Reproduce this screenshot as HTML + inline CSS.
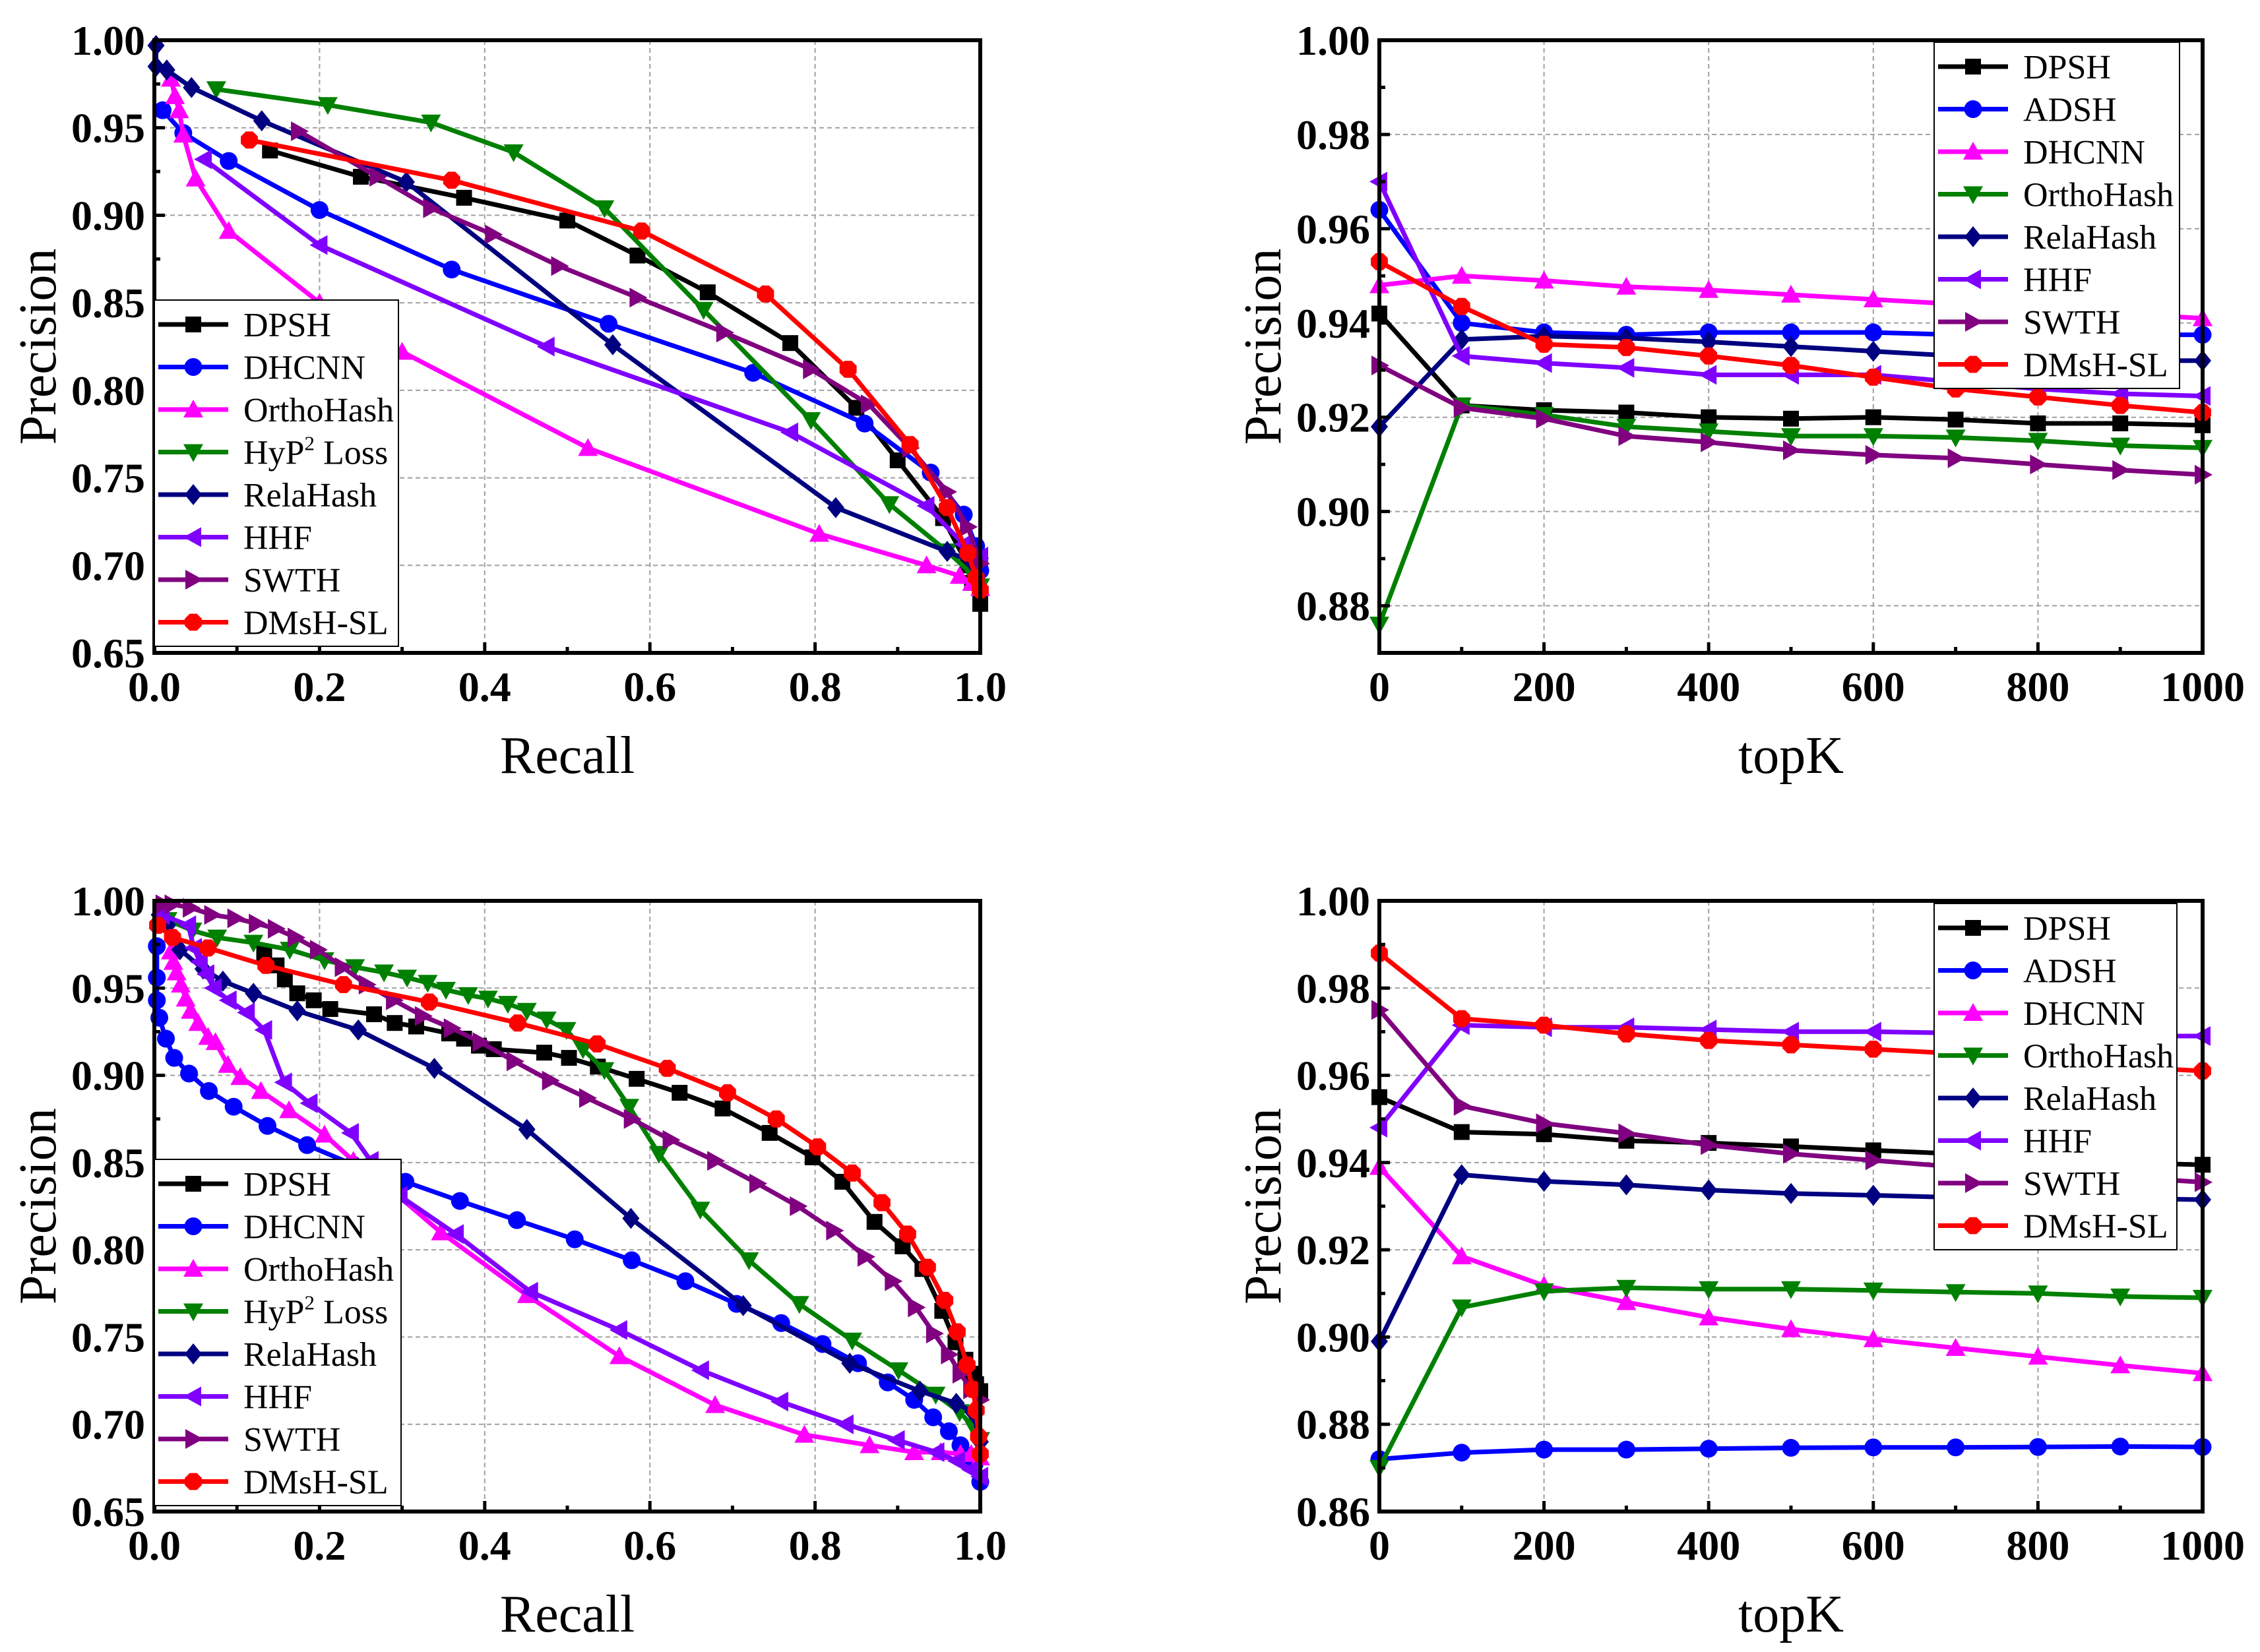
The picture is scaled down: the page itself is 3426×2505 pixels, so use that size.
<!DOCTYPE html>
<html><head><meta charset="utf-8"><title>Precision charts</title>
<style>
html,body{margin:0;padding:0;background:#fff;}
svg{display:block;font-family:"Liberation Serif","Times New Roman",serif;}
</style></head>
<body>
<svg id="fig" width="3426" height="2505" viewBox="0 0 3426 2505" xmlns="http://www.w3.org/2000/svg"></svg>
<script>
// ---------- DATA ----------
const prLabels = ["DPSH","DHCNN","OrthoHash","HyP2 Loss","RelaHash","HHF","SWTH","DMsH-SL"];
const topkLabels = ["DPSH","ADSH","DHCNN","OrthoHash","RelaHash","HHF","SWTH","DMsH-SL"];
const topkCategories = [0,100,200,300,400,500,600,700,800,900,1000];
const prXTicks = [0,0.2,0.4,0.6,0.8,1.0];
const prYTicks = [0.65,0.70,0.75,0.80,0.85,0.90,0.95,1.00];
const topkXTicks = [0,200,400,600,800,1000];
const tr_YTicks = [0.88,0.90,0.92,0.94,0.96,0.98,1.00];
const br_YTicks = [0.86,0.88,0.90,0.92,0.94,0.96,0.98,1.00];

const tlDPSH = [[0.14,0.937],[0.25,0.922],[0.375,0.910],[0.50,0.897],[0.585,0.877],[0.67,0.856],[0.77,0.827],[0.85,0.790],[0.90,0.760],[0.955,0.727],[0.985,0.700],[0.99,0.690],[1.0,0.678]];
const tlDHCNN = [[0.01,0.960],[0.035,0.947],[0.09,0.931],[0.20,0.903],[0.36,0.869],[0.55,0.838],[0.725,0.810],[0.86,0.781],[0.94,0.753],[0.98,0.729],[0.995,0.711],[1.0,0.697]];
const tlOrtho = [[0.02,0.978],[0.025,0.968],[0.03,0.960],[0.035,0.946],[0.05,0.921],[0.09,0.891],[0.20,0.850],[0.30,0.822],[0.525,0.767],[0.805,0.718],[0.935,0.700],[0.975,0.694],[0.99,0.690],[1.0,0.687]];
const tlHyP = [[0.075,0.972],[0.21,0.963],[0.335,0.953],[0.435,0.936],[0.545,0.904],[0.665,0.846],[0.795,0.783],[0.89,0.735],[0.96,0.708],[0.99,0.695],[1.0,0.688]];
const tlRela = [[0.002,0.997],[0.002,0.985],[0.015,0.983],[0.045,0.973],[0.13,0.954],[0.305,0.919],[0.555,0.826],[0.825,0.733],[0.96,0.708],[0.99,0.702],[1.0,0.704]];
const tlHHF = [[0.06,0.932],[0.20,0.883],[0.475,0.825],[0.77,0.776],[0.935,0.734],[0.98,0.712],[1.0,0.705]];
const tlSWTH = [[0.175,0.948],[0.27,0.922],[0.335,0.904],[0.41,0.889],[0.49,0.871],[0.585,0.853],[0.69,0.833],[0.795,0.812],[0.865,0.792],[0.915,0.767],[0.96,0.742],[0.985,0.722],[1.0,0.701]];
const tlDMsH = [[0.115,0.943],[0.36,0.920],[0.59,0.891],[0.74,0.855],[0.84,0.812],[0.915,0.769],[0.96,0.733],[0.985,0.707],[0.995,0.693],[1.0,0.686]];

const trDPSH = [0.942,0.9225,0.9215,0.921,0.920,0.9197,0.920,0.9195,0.9187,0.9187,0.9183];
const trADSH = [0.964,0.940,0.938,0.9375,0.938,0.938,0.938,0.9375,0.9375,0.9375,0.9375];
const trDHCNN = [0.948,0.950,0.949,0.9477,0.947,0.946,0.945,0.944,0.943,0.942,0.941];
const trOrtho = [0.876,0.9225,0.9205,0.918,0.917,0.916,0.916,0.9157,0.915,0.914,0.9135];
const trRela = [0.918,0.9365,0.9372,0.9368,0.936,0.935,0.934,0.933,0.932,0.932,0.932];
const trHHF = [0.970,0.933,0.9315,0.9305,0.929,0.929,0.929,0.9275,0.926,0.925,0.9245];
const trSWTH = [0.931,0.922,0.9197,0.916,0.9147,0.913,0.912,0.9113,0.910,0.9088,0.9078];
const trDMsH = [0.953,0.9435,0.9355,0.9348,0.933,0.931,0.9285,0.926,0.9243,0.9225,0.921];

const blDPSH = [[0.133,0.970],[0.148,0.963],[0.158,0.955],[0.173,0.947],[0.193,0.943],[0.213,0.938],[0.266,0.935],[0.291,0.930],[0.317,0.928],[0.357,0.924],[0.375,0.921],[0.393,0.917],[0.411,0.915],[0.472,0.913],[0.502,0.910],[0.537,0.905],[0.584,0.898],[0.636,0.890],[0.688,0.881],[0.745,0.867],[0.797,0.853],[0.833,0.839],[0.872,0.816],[0.906,0.802],[0.930,0.789],[0.954,0.765],[0.970,0.747],[0.982,0.737],[0.99,0.729],[0.995,0.723],[1.0,0.719]];
const blDHCNN = [[0.003,0.974],[0.003,0.956],[0.003,0.943],[0.006,0.933],[0.014,0.921],[0.024,0.910],[0.042,0.901],[0.066,0.891],[0.096,0.882],[0.137,0.871],[0.185,0.860],[0.24,0.849],[0.304,0.839],[0.370,0.828],[0.439,0.817],[0.509,0.806],[0.578,0.794],[0.643,0.782],[0.705,0.769],[0.759,0.758],[0.809,0.746],[0.852,0.735],[0.888,0.724],[0.920,0.714],[0.943,0.704],[0.962,0.696],[0.976,0.688],[0.985,0.682],[0.993,0.677],[1.0,0.667]];
const blOrtho = [[0.02,0.971],[0.023,0.965],[0.027,0.959],[0.032,0.952],[0.038,0.944],[0.044,0.937],[0.053,0.930],[0.065,0.922],[0.074,0.919],[0.089,0.906],[0.104,0.899],[0.129,0.891],[0.163,0.880],[0.206,0.866],[0.241,0.851],[0.29,0.833],[0.347,0.810],[0.451,0.774],[0.563,0.739],[0.679,0.711],[0.787,0.694],[0.866,0.688],[0.920,0.684],[0.952,0.684],[0.976,0.683],[0.989,0.683],[1.0,0.681]];
const blHyP = [[0.016,0.989],[0.046,0.983],[0.076,0.979],[0.12,0.976],[0.164,0.972],[0.206,0.966],[0.243,0.962],[0.278,0.959],[0.306,0.956],[0.331,0.953],[0.353,0.949],[0.380,0.946],[0.404,0.944],[0.428,0.941],[0.451,0.937],[0.475,0.932],[0.499,0.926],[0.519,0.915],[0.545,0.903],[0.575,0.882],[0.611,0.855],[0.661,0.823],[0.720,0.794],[0.781,0.769],[0.845,0.748],[0.901,0.731],[0.946,0.717],[0.975,0.707],[0.991,0.699],[1.0,0.691]];
const blRela = [[0.006,0.992],[0.016,0.986],[0.031,0.972],[0.059,0.961],[0.083,0.954],[0.120,0.947],[0.173,0.937],[0.247,0.926],[0.339,0.904],[0.451,0.869],[0.577,0.818],[0.713,0.768],[0.842,0.735],[0.927,0.719],[0.971,0.712],[0.991,0.707],[1.0,0.690]];
const blHHF = [[0.009,0.992],[0.041,0.986],[0.048,0.973],[0.055,0.965],[0.063,0.958],[0.072,0.950],[0.090,0.943],[0.112,0.936],[0.133,0.926],[0.157,0.896],[0.188,0.884],[0.238,0.867],[0.262,0.851],[0.297,0.831],[0.365,0.809],[0.455,0.776],[0.563,0.754],[0.662,0.731],[0.758,0.713],[0.837,0.700],[0.899,0.691],[0.947,0.684],[0.972,0.679],[0.989,0.674],[1.0,0.670]];
const blSWTH = [[0.011,0.998],[0.022,0.998],[0.044,0.996],[0.070,0.992],[0.098,0.990],[0.124,0.987],[0.147,0.984],[0.171,0.979],[0.198,0.972],[0.228,0.962],[0.257,0.952],[0.290,0.943],[0.325,0.934],[0.360,0.927],[0.395,0.919],[0.436,0.908],[0.479,0.897],[0.524,0.887],[0.578,0.875],[0.625,0.863],[0.679,0.851],[0.730,0.838],[0.779,0.825],[0.823,0.811],[0.861,0.796],[0.894,0.782],[0.922,0.767],[0.944,0.752],[0.962,0.740],[0.976,0.729],[0.989,0.720],[1.0,0.714]];
const blDMsH = [[0.004,0.986],[0.022,0.979],[0.065,0.973],[0.135,0.963],[0.229,0.952],[0.333,0.942],[0.440,0.930],[0.536,0.918],[0.621,0.904],[0.694,0.890],[0.753,0.875],[0.803,0.859],[0.845,0.844],[0.881,0.827],[0.912,0.809],[0.936,0.790],[0.957,0.771],[0.972,0.753],[0.984,0.734],[0.991,0.720],[0.995,0.708],[0.998,0.693],[1.0,0.683]];

const brDPSH = [0.955,0.947,0.9465,0.945,0.9445,0.9437,0.9428,0.942,0.941,0.940,0.9395];
const brADSH = [0.872,0.8735,0.8742,0.8742,0.8744,0.8746,0.8747,0.8747,0.8748,0.8749,0.8748];
const brDHCNN = [0.939,0.9185,0.9118,0.908,0.9045,0.9018,0.8995,0.8975,0.8955,0.8935,0.8917];
const brOrtho = [0.870,0.9068,0.9105,0.9113,0.911,0.911,0.9107,0.9103,0.910,0.9093,0.909];
const brRela = [0.899,0.9372,0.9357,0.9349,0.9337,0.9329,0.9325,0.932,0.932,0.9318,0.9315];
const brHHF = [0.948,0.9715,0.971,0.971,0.9705,0.970,0.970,0.9697,0.9695,0.969,0.969];
const brSWTH = [0.975,0.953,0.949,0.9467,0.944,0.942,0.9405,0.939,0.938,0.9367,0.9355];
const brDMsH = [0.988,0.973,0.9715,0.9695,0.968,0.967,0.966,0.965,0.9635,0.962,0.961];

// ---------- DRAWING ----------
const NS = "http://www.w3.org/2000/svg";
const svg = document.getElementById('fig');
const COLORS = ["#000000","#0000ff","#ff00ff","#008000","#000080","#8000ff","#800080","#ff0000"];
const MARKERS = ["square","circle","up","down","diamond","left","right","hex"];

function mk(tag, attrs, parent) {
  const e = document.createElementNS(NS, tag);
  for (const k in attrs) e.setAttribute(k, attrs[k]);
  (parent || svg).appendChild(e);
  return e;
}

function marker(g, type, cx, cy, color) {
  const r = 14;
  let e;
  if (type === "square") e = mk('rect', {x: cx - 12, y: cy - 12, width: 24, height: 24, fill: color}, g);
  else if (type === "circle") e = mk('circle', {cx: cx, cy: cy, r: 13.5, fill: color}, g);
  else if (type === "hex") {
    const p = [];
    for (let i = 0; i < 8; i++) { const a = Math.PI / 8 + i * Math.PI / 4; p.push((cx + r * Math.cos(a)).toFixed(1) + "," + (cy + r * Math.sin(a)).toFixed(1)); }
    e = mk('polygon', {points: p.join(" "), fill: color}, g);
  } else {
    let pts;
    if (type === "up") pts = [[0,-r-1],[r+1,r-2],[-r-1,r-2]];
    else if (type === "down") pts = [[0,r+1],[r+1,-r+2],[-r-1,-r+2]];
    else if (type === "left") pts = [[-r-1,0],[r-2,-r-1],[r-2,r+1]];
    else if (type === "right") pts = [[r+1,0],[-r+2,-r-1],[-r+2,r+1]];
    else if (type === "diamond") pts = [[0,-r-2],[r-1,0],[0,r+2],[-r+1,0]];
    e = mk('polygon', {points: pts.map(q => (cx + q[0]).toFixed(1) + "," + (cy + q[1]).toFixed(1)).join(" "), fill: color}, g);
  }
  
  
}

function drawPlot(cfg) {
  const g = mk('g', {});
  
  
  const X = v => cfg.x0 + (v - cfg.xmin) / (cfg.xmax - cfg.xmin) * (cfg.x1 - cfg.x0);
  const Y = v => cfg.yb - (v - cfg.ymin) / (cfg.ymax - cfg.ymin) * (cfg.yb - cfg.yt);

  const grid = mk('g', {stroke: "#a0a0a0", "stroke-width": 2, "stroke-dasharray": "7,5"}, g);
  
  
  cfg.xticks.forEach(v => { const x = X(v); if (x > cfg.x0 + 2 && x < cfg.x1 - 2) mk('line', {x1: x, x2: x, y1: cfg.yt, y2: cfg.yb}, grid); });
  cfg.yticks.forEach(v => { const y = Y(v); if (y > cfg.yt + 2 && y < cfg.yb - 2) mk('line', {x1: cfg.x0, x2: cfg.x1, y1: y, y2: y}, grid); });

  const ser = mk('g', {}, g);
  cfg.series.forEach((pts, i) => {
    const sg = mk('g', {}, ser);
    
    
    const coords = pts.map(p => [X(p[0]), Y(p[1])]);
    const pl = mk('polyline', {points: coords.map(c => c[0].toFixed(1) + "," + c[1].toFixed(1)).join(" "), fill: "none", stroke: COLORS[i], "stroke-width": 7, "stroke-linejoin": "round"}, sg);
    
    
    coords.forEach(c => marker(sg, MARKERS[i], c[0], c[1], COLORS[i]));
  });

  const fr = mk('rect', {x: cfg.x0, y: cfg.yt, width: cfg.x1 - cfg.x0, height: cfg.yb - cfg.yt, fill: "none", stroke: "#000", "stroke-width": 6}, g);
  
  

  const tk = mk('g', {stroke: "#000", "stroke-width": 5}, g);
  
  
  const xs = cfg.xticks, ys = cfg.yticks;
  xs.forEach((v, i) => {
    const x = X(v);
    mk('line', {x1: x, x2: x, y1: cfg.yb, y2: cfg.yb - 16}, tk);
    if (i < xs.length - 1) { const xm = X((v + xs[i + 1]) / 2); mk('line', {x1: xm, x2: xm, y1: cfg.yb, y2: cfg.yb - 9}, tk); }
  });
  ys.forEach((v, i) => {
    const y = Y(v);
    mk('line', {x1: cfg.x0, x2: cfg.x0 + 16, y1: y, y2: y}, tk);
    if (i < ys.length - 1) { const ym = Y((v + ys[i + 1]) / 2); mk('line', {x1: cfg.x0, x2: cfg.x0 + 9, y1: ym, y2: ym}, tk); }
  });

  xs.forEach(v => {
    const t = mk('text', {x: X(v), y: cfg.yb + 73, "text-anchor": "middle", "font-size": 64, "font-weight": "bold"}, g);
    
    
    t.textContent = cfg.xfmt(v);
  });
  ys.forEach(v => {
    const t = mk('text', {x: cfg.x0 - 14, y: Y(v) + 22, "text-anchor": "end", "font-size": 64, "font-weight": "bold"}, g);
    
    
    t.textContent = v.toFixed(2);
  });

  const xt = mk('text', {x: (cfg.x0 + cfg.x1) / 2, y: cfg.yb + 182, "text-anchor": "middle", "font-size": 80}, g);
  
  
  xt.textContent = cfg.xtitle;
  const ycx = cfg.x0 - 150, ycy = (cfg.yt + cfg.yb) / 2;
  const yt = mk('text', {x: ycx, y: ycy, "text-anchor": "middle", "font-size": 80, transform: "rotate(-90 " + ycx + " " + ycy + ")"}, g);
  
  
  yt.textContent = "Precision";

  const lg = mk('g', {}, g);
  
  
  const lr = mk('rect', {x: cfg.lx, y: cfg.ly, width: cfg.lw, height: 525, fill: "#fff", stroke: "#000", "stroke-width": 2}, lg);
  
  
  cfg.labels.forEach((lab, i) => {
    const eg = mk('g', {}, lg);
    
    
    const cy = cfg.ly + 37 + i * 64.5;
    mk('line', {x1: cfg.lx + 6, x2: cfg.lx + 112, y1: cy, y2: cy, stroke: COLORS[i], "stroke-width": 7}, eg);
    marker(eg, MARKERS[i], cfg.lx + 59, cy, COLORS[i]);
    const t = mk('text', {x: cfg.lx + 135, y: cy + 18, "font-size": 52}, eg);
    if (lab === "HyP2 Loss") {
      t.appendChild(document.createTextNode("HyP"));
      const s = mk('tspan', {"font-size": 31, dy: -21}, t);
      s.textContent = "2";
      const s2 = mk('tspan', {dy: 21}, t);
      s2.textContent = " Loss";
    } else t.textContent = lab;
  });
}

const fmtPR = v => v.toFixed(1);
const fmtK = v => String(v);
const toPairs = arr => arr.map((v, i) => [topkCategories[i], v]);

drawPlot({name: "pr-chart-top-left", x0: 234, x1: 1486, yt: 61, yb: 990, xmin: 0, xmax: 1, ymin: 0.65, ymax: 1.0,
  xticks: prXTicks, yticks: prYTicks, xfmt: fmtPR, xtitle: "Recall", labels: prLabels, lx: 234, ly: 455, lw: 370,
  series: [tlDPSH, tlDHCNN, tlOrtho, tlHyP, tlRela, tlHHF, tlSWTH, tlDMsH]});

drawPlot({name: "topk-chart-top-right", x0: 2091, x1: 3339, yt: 61, yb: 990, xmin: 0, xmax: 1000, ymin: 0.87, ymax: 1.0,
  xticks: topkXTicks, yticks: tr_YTicks, xfmt: fmtK, xtitle: "topK", labels: topkLabels, lx: 2932, ly: 64, lw: 372,
  series: [trDPSH, trADSH, trDHCNN, trOrtho, trRela, trHHF, trSWTH, trDMsH].map(toPairs)});

drawPlot({name: "pr-chart-bottom-left", x0: 234, x1: 1486, yt: 1366, yb: 2292, xmin: 0, xmax: 1, ymin: 0.65, ymax: 1.0,
  xticks: prXTicks, yticks: prYTicks, xfmt: fmtPR, xtitle: "Recall", labels: prLabels, lx: 234, ly: 1758, lw: 374,
  series: [blDPSH, blDHCNN, blOrtho, blHyP, blRela, blHHF, blSWTH, blDMsH]});

drawPlot({name: "topk-chart-bottom-right", x0: 2091, x1: 3339, yt: 1366, yb: 2292, xmin: 0, xmax: 1000, ymin: 0.86, ymax: 1.0,
  xticks: topkXTicks, yticks: br_YTicks, xfmt: fmtK, xtitle: "topK", labels: topkLabels, lx: 2932, ly: 1370, lw: 368,
  series: [brDPSH, brADSH, brDHCNN, brOrtho, brRela, brHHF, brSWTH, brDMsH].map(toPairs)});
</script>
</body></html>
